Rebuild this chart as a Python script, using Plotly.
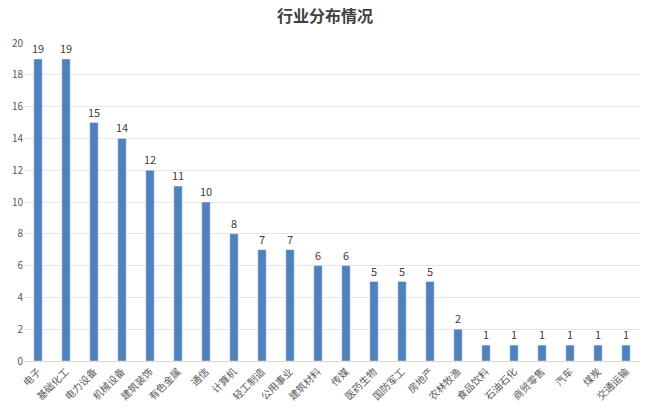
import plotly.graph_objects as go

categories = ["电子", "基础化工", "电力设备", "机械设备", "建筑装饰", "有色金属", "通信", "计算机",
              "轻工制造", "公用事业", "建筑材料", "传媒", "医药生物", "国防军工", "房地产", "农林牧渔",
              "食品饮料", "石油石化", "商贸零售", "汽车", "煤炭", "交通运输"]
values = [19, 19, 15, 14, 12, 11, 10, 8, 7, 7, 6, 6, 5, 5, 5, 2, 1, 1, 1, 1, 1, 1]

fig = go.Figure(go.Bar(
    x=categories, y=values, marker_color="#4f81bd", width=0.3,
    text=values, textposition="outside", cliponaxis=False, constraintext="none",
    textfont=dict(size=11, color="#404040", family="Noto Sans CJK SC"),
))
fig.update_layout(
    width=650, height=414, plot_bgcolor="white", paper_bgcolor="white",
    margin=dict(l=24, r=10, t=43, b=53),
    title=dict(text="<b>行业分布情况</b>", x=0.5, xanchor="center", y=0.96, yanchor="middle",
               font=dict(size=16, color="#404040", family="Noto Sans CJK SC")),
    showlegend=False,
)
fig.update_xaxes(tickangle=-45, tickfont=dict(size=10, color="#595959", family="Noto Sans CJK SC"),
                 showline=True, linecolor="#d9d9d9", ticks="", range=[-0.5, 21.5])
fig.update_yaxes(range=[0, 20], dtick=2, gridcolor="#e6e6e6", zeroline=False,
                 tickfont=dict(size=10, color="#595959", family="Noto Sans CJK SC"), ticks="")
fig.write_html("out.html")
